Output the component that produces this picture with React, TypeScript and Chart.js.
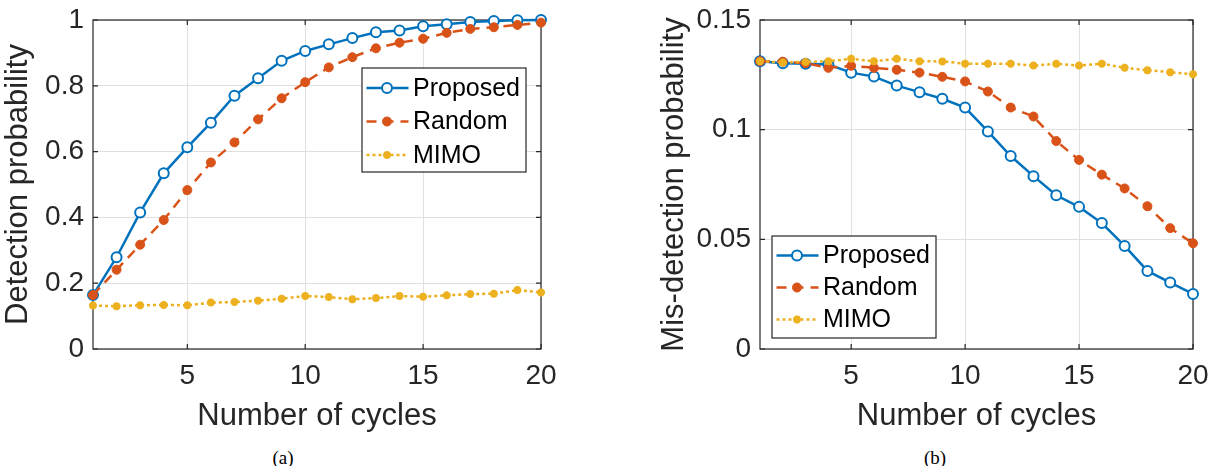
import React, { useEffect, useRef } from 'react';
import { Chart, registerables } from 'chart.js';

Chart.register(...registerables);

// ---------------- data ----------------
const cycles = [1, 2, 3, 4, 5, 6, 7, 8, 9, 10, 11, 12, 13, 14, 15, 16, 17, 18, 19, 20];
const xTicks = [5, 10, 15, 20];
const seriesNames = ['Proposed', 'Random', 'MIMO'];

// (a) detection probability
const detProposed = [0.164, 0.279, 0.415, 0.534, 0.613, 0.688, 0.770, 0.823, 0.876, 0.906, 0.926, 0.945, 0.963, 0.968, 0.981, 0.987, 0.994, 0.997, 0.999, 1.0];
const detRandom = [0.164, 0.241, 0.317, 0.392, 0.483, 0.567, 0.628, 0.698, 0.762, 0.811, 0.856, 0.887, 0.914, 0.931, 0.943, 0.961, 0.973, 0.978, 0.985, 0.992];
const detMimo = [0.132, 0.130, 0.133, 0.134, 0.133, 0.141, 0.143, 0.147, 0.153, 0.161, 0.158, 0.151, 0.155, 0.161, 0.159, 0.163, 0.167, 0.168, 0.179, 0.172];
const detYTicks = [0, 0.2, 0.4, 0.6, 0.8, 1];
const detYLabels = ['0', '0.2', '0.4', '0.6', '0.8', '1'];

// (b) mis-detection probability
const misProposed = [0.1312, 0.1303, 0.1300, 0.1297, 0.1260, 0.1242, 0.1201, 0.1171, 0.1141, 0.1101, 0.0992, 0.0880, 0.0788, 0.0701, 0.0648, 0.0574, 0.0470, 0.0356, 0.0303, 0.0251];
const misRandom = [0.1312, 0.1310, 0.1303, 0.1282, 0.1291, 0.1282, 0.1273, 0.1260, 0.1241, 0.1220, 0.1174, 0.1101, 0.1060, 0.0948, 0.0862, 0.0795, 0.0732, 0.0651, 0.0551, 0.0482];
const misMimo = [0.1312, 0.1306, 0.1309, 0.1312, 0.1323, 0.1312, 0.1323, 0.1312, 0.1311, 0.1301, 0.1301, 0.1301, 0.1292, 0.1300, 0.1292, 0.1301, 0.1282, 0.1271, 0.1262, 0.1253];
const misYTicks = [0, 0.05, 0.1, 0.15];
const misYLabels = ['0', '0.05', '0.1', '0.15'];

// ---------------- styles ----------------
const FONT = "'Liberation Sans', Arial, Helvetica, sans-serif";
const AXIS_COLOR = '#262626';
const GRID_COLOR = '#e0e0e0';

const seriesStyles = [
  { color: '#0072BD', dash: [] as number[], pointStyle: 'circle', radius: 5, pbw: 2, fill: '#ffffff', order: 3 },
  { color: '#D95319', dash: [10, 7], pointStyle: 'circle', radius: 4.5, pbw: 1, fill: '#D95319', order: 2 },
  { color: '#EDB120', dash: [3, 3], pointStyle: 'star', radius: 4, pbw: 2.6, fill: '#EDB120', order: 1 },
];

function drawMarker(ctx: CanvasRenderingContext2D, style: string, x: number, y: number, r: number, bw: number, stroke: string, fill: string) {
  ctx.save();
  ctx.setLineDash([]);
  ctx.lineWidth = bw;
  ctx.strokeStyle = stroke;
  ctx.fillStyle = fill;
  ctx.beginPath();
  if (style === 'circle') {
    ctx.arc(x, y, r, 0, Math.PI * 2);
    ctx.fill();
    ctx.stroke();
  } else {
    const d = r * Math.SQRT1_2;
    ctx.moveTo(x - r, y); ctx.lineTo(x + r, y);
    ctx.moveTo(x, y - r); ctx.lineTo(x, y + r);
    ctx.moveTo(x - d, y - d); ctx.lineTo(x + d, y + d);
    ctx.moveTo(x - d, y + d); ctx.lineTo(x + d, y - d);
    ctx.stroke();
  }
  ctx.restore();
}

const framePlugin = {
  id: 'matlabFrame',
  beforeDatasetsDraw(chart: any) {
    const { ctx, chartArea } = chart;
    const { left, right, top, bottom } = chartArea;
    const xs = chart.scales.x;
    const ys = chart.scales.y;
    const TL = 5;
    ctx.save();
    ctx.strokeStyle = AXIS_COLOR;
    ctx.lineWidth = 1.2;
    ctx.strokeRect(left, top, right - left, bottom - top);
    ctx.beginPath();
    xs.ticks.forEach((t: any) => {
      const p = xs.getPixelForValue(t.value);
      ctx.moveTo(p, bottom); ctx.lineTo(p, bottom - TL);
      ctx.moveTo(p, top); ctx.lineTo(p, top + TL);
    });
    ys.ticks.forEach((t: any) => {
      const p = ys.getPixelForValue(t.value);
      ctx.moveTo(left, p); ctx.lineTo(left + TL, p);
      ctx.moveTo(right, p); ctx.lineTo(right - TL, p);
    });
    ctx.stroke();
    ctx.restore();
  },
};

type Box = { x: number; y: number; w: number; h: number; first: number; rowH: number };

function makeLegendPlugin(box: Box) {
  return {
    id: 'matlabLegend',
    afterDraw(chart: any) {
      const { ctx } = chart;
      ctx.save();
      ctx.fillStyle = '#ffffff';
      ctx.fillRect(box.x, box.y, box.w, box.h);
      ctx.strokeStyle = AXIS_COLOR;
      ctx.lineWidth = 1.2;
      ctx.strokeRect(box.x, box.y, box.w, box.h);
      chart.data.datasets.forEach((ds: any, i: number) => {
        const cy = box.y + box.first + i * box.rowH;
        ctx.save();
        ctx.setLineDash(ds.borderDash || []);
        ctx.strokeStyle = ds.borderColor;
        ctx.lineWidth = ds.borderWidth;
        ctx.beginPath();
        ctx.moveTo(box.x + 4.5, cy);
        ctx.lineTo(box.x + 46.5, cy);
        ctx.stroke();
        ctx.restore();
        drawMarker(ctx, ds.pointStyle, box.x + 25, cy, ds.pointRadius, ds.pointBorderWidth, ds.borderColor, ds.pointBackgroundColor);
        ctx.fillStyle = '#000000';
        ctx.font = `25px ${FONT}`;
        ctx.textBaseline = 'middle';
        ctx.textAlign = 'left';
        ctx.fillText(ds.label, box.x + 51, cy + 1);
      });
      ctx.restore();
    },
  };
}

type PanelProps = {
  left: number;
  width: number;
  height: number;
  values: number[][];
  yMax: number;
  yTicks: number[];
  yLabels: string[];
  yTitle: string;
  yAxisWidth: number;
  yTitlePad: number;
  padRight: number;
  legend: Box;
};

function Panel(p: PanelProps) {
  const ref = useRef<HTMLCanvasElement | null>(null);
  useEffect(() => {
    if (!ref.current) return;
    const datasets = seriesNames.map((name, i) => {
      const s = seriesStyles[i];
      return {
        label: name,
        data: cycles.map((c, j) => ({ x: c, y: p.values[i][j] })),
        borderColor: s.color,
        backgroundColor: s.fill,
        borderWidth: 2.5,
        borderDash: s.dash,
        borderCapStyle: 'butt',
        pointStyle: s.pointStyle,
        pointRadius: s.radius,
        pointHoverRadius: s.radius,
        pointBorderWidth: s.pbw,
        pointBorderColor: s.color,
        pointBackgroundColor: s.fill,
        tension: 0,
        fill: false,
        order: s.order,
        clip: false,
      };
    });
    const chart = new Chart(ref.current, {
      type: 'line',
      data: { datasets } as any,
      options: {
        responsive: false,
        maintainAspectRatio: false,
        animation: false,
        events: [],
        layout: { padding: { left: 0, top: 20, right: p.padRight, bottom: 5 } },
        plugins: {
          legend: { display: false },
          tooltip: { enabled: false },
          title: { display: false },
        },
        scales: {
          x: {
            type: 'linear',
            min: 1,
            max: 20,
            afterBuildTicks: (s: any) => { s.ticks = xTicks.map((v) => ({ value: v })); },
            afterFit: (s: any) => { s.height = 86; s.paddingLeft = 0; s.paddingRight = 0; },
            grid: { color: GRID_COLOR, lineWidth: 1, drawTicks: false, tickLength: 0 },
            border: { display: false },
            ticks: {
              font: { family: FONT, size: 28 },
              color: AXIS_COLOR,
              padding: 10,
              maxRotation: 0,
              autoSkip: false,
              callback: (v: any) => String(v),
            },
            title: {
              display: true,
              text: 'Number of cycles',
              font: { family: FONT, size: 31 },
              color: AXIS_COLOR,
              padding: { top: 0, bottom: 0 },
            },
          },
          y: {
            type: 'linear',
            min: 0,
            max: p.yMax,
            afterBuildTicks: (s: any) => { s.ticks = p.yTicks.map((v) => ({ value: v })); },
            afterFit: (s: any) => { s.width = p.yAxisWidth; s.paddingTop = 0; s.paddingBottom = 0; },
            grid: { color: GRID_COLOR, lineWidth: 1, drawTicks: false, tickLength: 0 },
            border: { display: false },
            ticks: {
              font: { family: FONT, size: 28 },
              color: AXIS_COLOR,
              padding: 9,
              autoSkip: false,
              callback: (v: any) => {
                const idx = p.yTicks.findIndex((t) => Math.abs(t - Number(v)) < 1e-9);
                return idx >= 0 ? p.yLabels[idx] : '';
              },
            },
            title: {
              display: true,
              text: p.yTitle,
              font: { family: FONT, size: 31 },
              color: AXIS_COLOR,
              padding: { top: p.yTitlePad, bottom: 0 },
            },
          },
        },
      } as any,
      plugins: [framePlugin, makeLegendPlugin(p.legend)],
    });
    return () => chart.destroy();
  }, []);
  return (
    <canvas
      ref={ref}
      width={p.width}
      height={p.height}
      style={{ position: 'absolute', left: p.left, top: 0, width: p.width, height: p.height }}
    />
  );
}

const captionStyle: React.CSSProperties = {
  position: 'absolute',
  top: 448,
  transform: 'translateX(-50%)',
  fontFamily: "'Liberation Serif', 'Times New Roman', serif",
  fontSize: 19,
  lineHeight: '19px',
  color: '#000',
  whiteSpace: 'nowrap',
};

export default function App() {
  return (
    <div style={{ position: 'fixed', left: 0, top: 0, width: 1212, height: 466, background: '#ffffff', overflow: 'hidden' }}>
      <Panel
        left={0}
        width={600}
        height={440}
        values={[detProposed, detRandom, detMimo]}
        yMax={1}
        yTicks={detYTicks}
        yLabels={detYLabels}
        yTitle="Detection probability"
        yAxisWidth={93}
        yTitlePad={0}
        padRight={59}
        legend={{ x: 362, y: 68, w: 164, h: 104, first: 20, rowH: 33.5 }}
      />
      <Panel
        left={606}
        width={606}
        height={440}
        values={[misProposed, misRandom, misMimo]}
        yMax={0.15}
        yTicks={misYTicks}
        yLabels={misYLabels}
        yTitle="Mis-detection probability"
        yAxisWidth={154}
        yTitlePad={50}
        padRight={19}
        legend={{ x: 166, y: 236, w: 164, h: 102, first: 19.5, rowH: 32 }}
      />
      <div style={{ ...captionStyle, left: 283 }}>(a)</div>
      <div style={{ ...captionStyle, left: 935 }}>(b)</div>
    </div>
  );
}
